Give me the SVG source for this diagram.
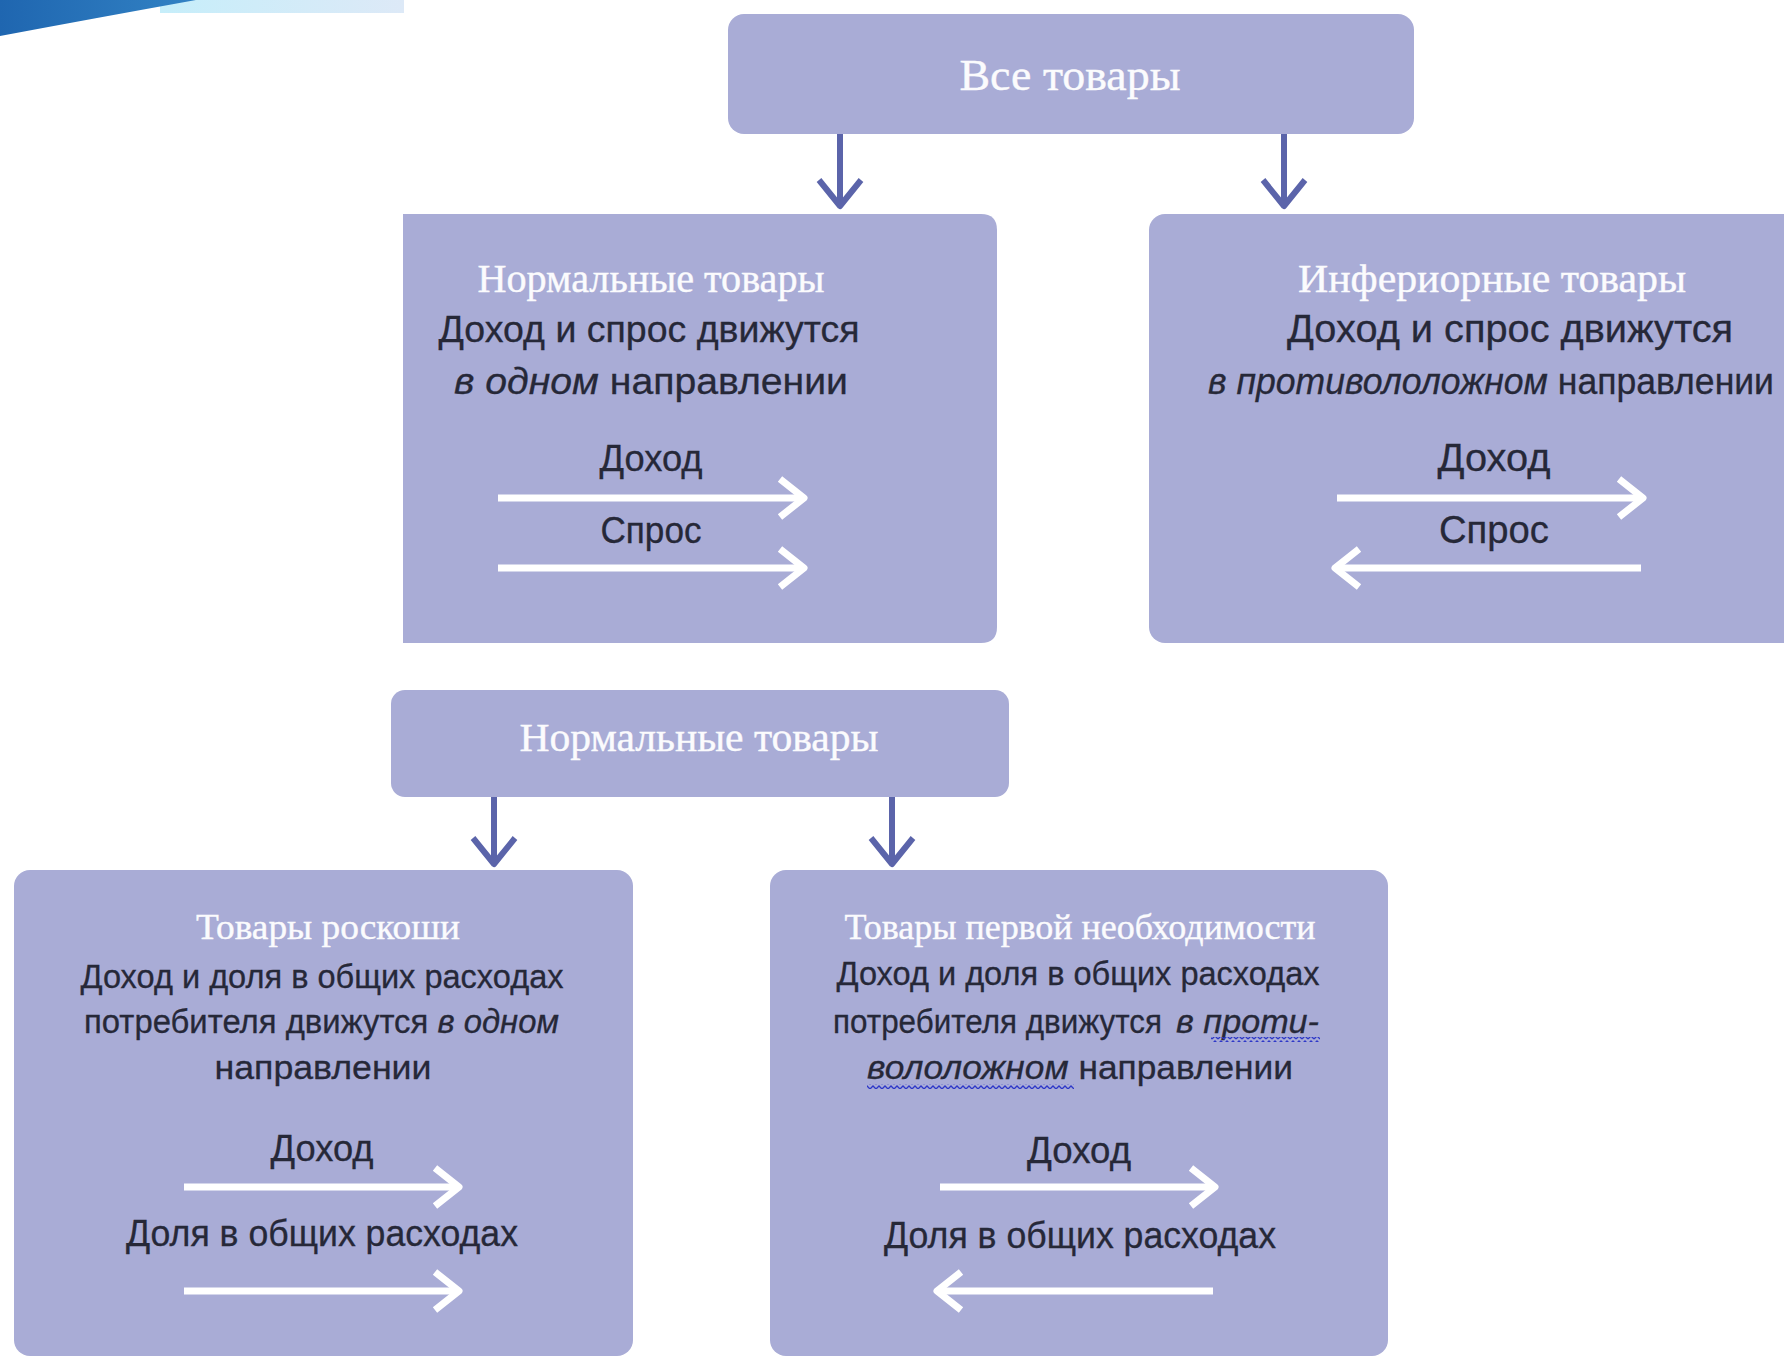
<svg xmlns="http://www.w3.org/2000/svg" width="1784" height="1358" viewBox="0 0 1784 1358">
  <defs>
    <style>
      .box { fill: #a9acd6; }
      .title { font-family: "Liberation Serif", "Times New Roman", serif; fill: #fbfbfd; stroke: #fbfbfd; stroke-width: 0.4; text-anchor: middle; }
      .body { font-family: "Liberation Sans", Arial, sans-serif; fill: #262838; stroke: #262838; stroke-width: 0.3; }
      .mid { text-anchor: middle; }
      .it { font-style: italic; }
      .conn { stroke: #5b64aa; stroke-width: 6; fill: none; }
      .flow { stroke: #ffffff; stroke-width: 7; fill: none; }
    </style>
    <linearGradient id="band" x1="0" y1="0" x2="1" y2="0">
      <stop offset="0" stop-color="#c6eefa"/>
      <stop offset="1" stop-color="#dde9f7"/>
    </linearGradient>
    <linearGradient id="wedge" x1="0" y1="0" x2="1" y2="0">
      <stop offset="0" stop-color="#1f66b0"/>
      <stop offset="1" stop-color="#3282c4"/>
    </linearGradient>
    <!-- open chevron heads -->
    <marker id="headDark" viewBox="-32 -26 36 52" refX="0" refY="0" markerWidth="36" markerHeight="52" markerUnits="userSpaceOnUse" orient="auto">
      <path d="M-26,-21 L0,0 L-26,21" fill="none" stroke="#5b64aa" stroke-width="6" stroke-linejoin="round"/>
    </marker>
    <marker id="headWhite" viewBox="-32 -26 36 52" refX="0" refY="0" markerWidth="36" markerHeight="52" markerUnits="userSpaceOnUse" orient="auto">
      <path d="M-24,-19 L0,0 L-24,19" fill="none" stroke="#ffffff" stroke-width="7" stroke-linejoin="round"/>
    </marker>
    <!-- spell-check squiggle -->
    <pattern id="squiggle" x="0" y="0" width="6" height="5" patternUnits="userSpaceOnUse">
      <path d="M0,4 L3,1 L6,4" fill="none" stroke="#2e38c8" stroke-width="1.3"/>
    </pattern>
  </defs>

  <rect width="1784" height="1358" fill="#ffffff"/>

  <!-- corner decoration -->
  <g id="corner">
    <rect x="160" y="0" width="244" height="13" fill="url(#band)"/>
    <path d="M0,0 H196 Q96,18 0,36 Z" fill="url(#wedge)"/>
  </g>

  <!-- connectors -->
  <g id="connectors">
    <line class="conn" x1="840" y1="134" x2="840" y2="206" marker-end="url(#headDark)"/>
    <line class="conn" x1="1284" y1="134" x2="1284" y2="206" marker-end="url(#headDark)"/>
    <line class="conn" x1="494" y1="797" x2="494" y2="864" marker-end="url(#headDark)"/>
    <line class="conn" x1="892" y1="797" x2="892" y2="864" marker-end="url(#headDark)"/>
  </g>

  <g id="all-goods">
    <rect class="box" x="728" y="14" width="686" height="120" rx="16"/>
    <text class="title" x="1070" y="90" font-size="44" textLength="221" lengthAdjust="spacingAndGlyphs">Все товары</text>
  </g>

  <g id="normal-goods">
    <path class="box" d="M403,214 H981 Q997,214 997,230 V627 Q997,643 981,643 H403 Z"/>
    <text class="title" x="651" y="292" font-size="40" textLength="347" lengthAdjust="spacingAndGlyphs">Нормальные товары</text>
    <text class="body mid" x="649" y="342" font-size="37" textLength="421" lengthAdjust="spacingAndGlyphs">Доход и спрос движутся</text>
    <text class="body" x="454" y="394" font-size="37" textLength="394" lengthAdjust="spacingAndGlyphs"><tspan class="it">в одном</tspan> направлении</text>
    <text class="body mid" x="651" y="471" font-size="36" textLength="103" lengthAdjust="spacingAndGlyphs">Доход</text>
    <line class="flow" x1="498" y1="498" x2="804" y2="498" marker-end="url(#headWhite)"/>
    <text class="body mid" x="651" y="543" font-size="36" textLength="101" lengthAdjust="spacingAndGlyphs">Спрос</text>
    <line class="flow" x1="498" y1="568" x2="804" y2="568" marker-end="url(#headWhite)"/>
  </g>

  <g id="inferior-goods">
    <rect class="box" x="1149" y="214" width="720" height="429" rx="16"/>
    <text class="title" x="1492" y="292" font-size="41" textLength="388" lengthAdjust="spacingAndGlyphs">Инфериорные товары</text>
    <text class="body mid" x="1510" y="342" font-size="39" textLength="446" lengthAdjust="spacingAndGlyphs">Доход и спрос движутся</text>
    <text class="body" x="1208" y="394" font-size="37" textLength="566" lengthAdjust="spacingAndGlyphs"><tspan class="it">в противололожном</tspan> направлении</text>
    <text class="body mid" x="1494" y="471" font-size="39" textLength="113" lengthAdjust="spacingAndGlyphs">Доход</text>
    <line class="flow" x1="1337" y1="498" x2="1643" y2="498" marker-end="url(#headWhite)"/>
    <text class="body mid" x="1494" y="543" font-size="39" textLength="110" lengthAdjust="spacingAndGlyphs">Спрос</text>
    <line class="flow" x1="1641" y1="568" x2="1335" y2="568" marker-end="url(#headWhite)"/>
  </g>

  <g id="normal-goods-split">
    <rect class="box" x="391" y="690" width="618" height="107" rx="14"/>
    <text class="title" x="699" y="751" font-size="40" textLength="359" lengthAdjust="spacingAndGlyphs">Нормальные товары</text>
  </g>

  <g id="luxury-goods">
    <rect class="box" x="14" y="870" width="619" height="486" rx="16"/>
    <text class="title" x="328" y="939" font-size="35" textLength="264" lengthAdjust="spacingAndGlyphs">Товары роскоши</text>
    <text class="body mid" x="322" y="988" font-size="34" textLength="483" lengthAdjust="spacingAndGlyphs">Доход и доля в общих расходах</text>
    <text class="body" x="84" y="1033" font-size="34" textLength="475" lengthAdjust="spacingAndGlyphs">потребителя движутся <tspan class="it">в одном</tspan></text>
    <text class="body mid" x="323" y="1079" font-size="34" textLength="217" lengthAdjust="spacingAndGlyphs">направлении</text>
    <text class="body mid" x="322" y="1161" font-size="36" textLength="103" lengthAdjust="spacingAndGlyphs">Доход</text>
    <line class="flow" x1="184" y1="1187" x2="459" y2="1187" marker-end="url(#headWhite)"/>
    <text class="body mid" x="322" y="1246" font-size="36" textLength="392" lengthAdjust="spacingAndGlyphs">Доля в общих расходах</text>
    <line class="flow" x1="184" y1="1291" x2="459" y2="1291" marker-end="url(#headWhite)"/>
  </g>

  <g id="necessity-goods">
    <rect class="box" x="770" y="870" width="618" height="486" rx="16"/>
    <text class="title" x="1080" y="939" font-size="35" textLength="471" lengthAdjust="spacingAndGlyphs">Товары первой необходимости</text>
    <text class="body mid" x="1078" y="985" font-size="34" textLength="483" lengthAdjust="spacingAndGlyphs">Доход и доля в общих расходах</text>
    <text class="body" x="833" y="1033" font-size="34" textLength="329" lengthAdjust="spacingAndGlyphs">потребителя движутся</text>
    <text class="body it" x="1176" y="1033" font-size="33" textLength="143" lengthAdjust="spacingAndGlyphs">в проти-</text>
    <rect x="1211" y="1037" width="109" height="5" fill="url(#squiggle)"/>
    <text class="body" x="867" y="1079" font-size="34" textLength="426" lengthAdjust="spacingAndGlyphs"><tspan class="it">вололожном</tspan> направлении</text>
    <rect x="867" y="1084" width="207" height="5" fill="url(#squiggle)"/>
    <text class="body mid" x="1079" y="1163" font-size="36" textLength="104" lengthAdjust="spacingAndGlyphs">Доход</text>
    <line class="flow" x1="940" y1="1187" x2="1215" y2="1187" marker-end="url(#headWhite)"/>
    <text class="body mid" x="1080" y="1248" font-size="36" textLength="392" lengthAdjust="spacingAndGlyphs">Доля в общих расходах</text>
    <line class="flow" x1="1213" y1="1291" x2="937" y2="1291" marker-end="url(#headWhite)"/>
  </g>
</svg>
